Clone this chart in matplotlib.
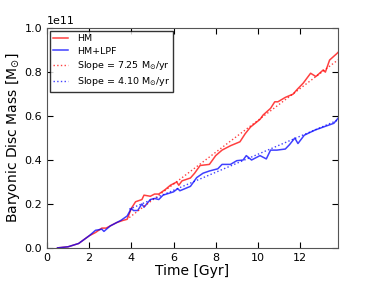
import numpy as np
import matplotlib
matplotlib.use('Agg')
import matplotlib.pyplot as plt

# time [Gyr] and disc mass [1e11 Msun]
t_hm = [0.5, 1.0, 1.5, 2.0, 2.3, 2.6, 2.8, 3.0, 3.3, 3.6, 3.8, 4.0, 4.2, 4.5, 4.6, 4.9,
        5.1, 5.3, 5.6, 5.85, 6.15, 6.25, 6.4, 6.8, 7.0, 7.26, 7.7, 8.0, 8.3, 8.7, 9.15,
        9.4, 9.65, 10.1, 10.25, 10.6, 10.8, 10.95, 11.3, 11.67, 11.85, 12.15, 12.5,
        12.75, 13.1, 13.2, 13.4, 13.75, 13.8]
m_hm = [0.0, 0.005, 0.02, 0.055, 0.07, 0.09, 0.09, 0.10, 0.115, 0.125, 0.13, 0.18, 0.21,
        0.22, 0.24, 0.235, 0.245, 0.245, 0.265, 0.285, 0.30, 0.285, 0.305, 0.318, 0.34,
        0.375, 0.38, 0.42, 0.445, 0.465, 0.483, 0.52, 0.55, 0.585, 0.605, 0.635, 0.665,
        0.665, 0.685, 0.70, 0.72, 0.75, 0.795, 0.78, 0.81, 0.80, 0.855, 0.885, 0.89]

t_lpf = [0.5, 1.0, 1.5, 2.0, 2.3, 2.6, 2.7, 3.0, 3.5, 3.8, 4.0, 4.1, 4.3, 4.5, 4.6, 4.9,
         5.1, 5.3, 5.5, 6.0, 6.2, 6.3, 6.8, 7.1, 7.4, 7.7, 8.1, 8.3, 8.7, 9.0, 9.3, 9.45,
         9.7, 10.1, 10.4, 10.6, 10.9, 11.3, 11.5, 11.75, 11.9, 12.2, 12.7, 13.1, 13.6, 13.8]
m_lpf = [0.0, 0.005, 0.02, 0.055, 0.08, 0.085, 0.075, 0.10, 0.125, 0.145, 0.18, 0.17,
         0.17, 0.20, 0.185, 0.22, 0.225, 0.22, 0.24, 0.255, 0.27, 0.26, 0.28, 0.32, 0.34,
         0.35, 0.36, 0.38, 0.38, 0.397, 0.40, 0.42, 0.40, 0.42, 0.405, 0.445, 0.445,
         0.45, 0.47, 0.50, 0.475, 0.513, 0.536, 0.55, 0.567, 0.59]

# linear fits: slope in Msun/yr, start time and mass at start
slope_hm = 7.25
slope_lpf = 4.10
fit_t = [3.9, 13.8]
fit0_hm = 0.138
fit0_lpf = 0.176

t_hm = np.array(t_hm)
t_lpf = np.array(t_lpf)
m_hm = np.array(m_hm) * 1e11
m_lpf = np.array(m_lpf) * 1e11
ft = np.array(fit_t)
fit_hm = fit0_hm * 1e11 + slope_hm * 1e9 * (ft - ft[0])
fit_lpf = fit0_lpf * 1e11 + slope_lpf * 1e9 * (ft - ft[0])

fig = plt.figure(figsize=(3.76, 2.82), dpi=100)
ax = fig.add_axes([0.125, 0.121, 0.774, 0.779])

ax.plot(t_hm, m_hm, color='red', lw=1.1, alpha=0.75, label='HM')
ax.plot(t_lpf, m_lpf, color='blue', lw=1.1, alpha=0.75, label='HM+LPF')
ax.plot(ft, fit_hm, color='red', lw=1, ls=':', alpha=0.75,
        label=r'Slope = 7.25 M$_{\odot}$/yr')
ax.plot(ft, fit_lpf, color='blue', lw=1, ls=':', alpha=0.75,
        label=r'Slope = 4.10 M$_{\odot}$/yr')

ax.set_xlim(0, 13.8)
ax.set_ylim(0, 1e11)
ax.set_xticks([0, 2, 4, 6, 8, 10, 12])
ax.set_yticks([0, 0.2e11, 0.4e11, 0.6e11, 0.8e11, 1.0e11])
ax.tick_params(direction='in', top=True, right=True, labelsize=8, length=4, width=0.8)
ax.yaxis.get_offset_text().set_fontsize(8)
for s in ax.spines.values():
    s.set_color('#555555')

ax.set_xlabel('Time [Gyr]', fontsize=10, labelpad=1)
ax.set_ylabel(r'Baryonic Disc Mass [M$_{\odot}$]', fontsize=10, labelpad=2)

leg = ax.legend(loc='upper left', fontsize=6.8, fancybox=False, handlelength=1.6,
                borderaxespad=0.3, labelspacing=0.35, handletextpad=0.9,
                borderpad=0.35)
leg.get_frame().set_edgecolor('black')

fig.savefig('out.png', dpi=100)
